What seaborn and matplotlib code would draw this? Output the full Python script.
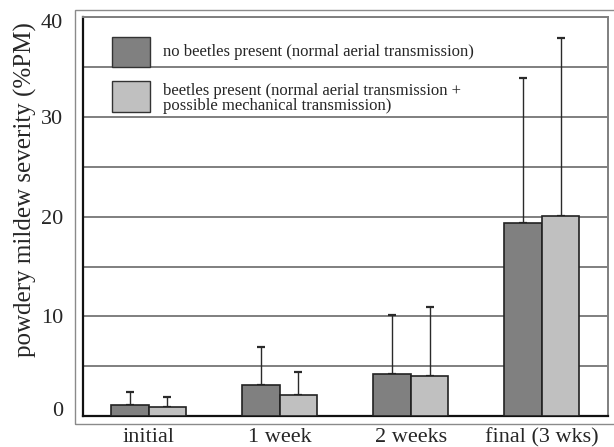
import matplotlib
matplotlib.use("Agg")
import matplotlib.pyplot as plt
from matplotlib.patches import Rectangle
import matplotlib.transforms as mtransforms
import seaborn as sns
import pandas as pd
import numpy as np

# ---- data ----
categories = ["initial", "1 week", "2 weeks", "final (3 wks)"]
series_names = ["no beetles present (normal aerial transmission)",
                "beetles present (normal aerial transmission +\npossible mechanical transmission)"]
no_beetles = [1.13, 3.1, 4.24, 19.4]
no_beetles_err_top = [2.37, 6.95, 10.13, 33.9]
beetles = [0.87, 2.1, 4.04, 20.1]
beetles_err_top = [1.9, 4.44, 10.9, 37.9]
y_ticks = [0, 10, 20, 30, 40]
y_label = "powdery mildew severity (%PM)"

colors = ["#808080", "#c0c0c0"]

sns.set_style("white")
plt.rcParams["font.family"] = ["Liberation Serif", "DejaVu Serif"]

df = pd.DataFrame({
    "cat": categories * 2,
    "val": no_beetles + beetles,
    "grp": [series_names[0]] * 4 + [series_names[1]] * 4,
})

W, H = 614, 447
AX_L, AX_R, AX_T, AX_B = 83, 607.5, 17.5, 416
AW, AH = AX_R - AX_L, AX_B - AX_T
fig = plt.figure(figsize=(W / 100, H / 100), dpi=100)
fig.patch.set_facecolor("white")
ax = fig.add_axes([AX_L / W, 1 - AX_B / H, AW / W, AH / H])

def fx(px):
    return (px - AX_L) / AW

def fy(py):
    return 1 - (py - AX_T) / AH

sns.barplot(data=df, x="cat", y="val", hue="grp", order=categories,
            hue_order=series_names, palette=colors, width=0.572,
            edgecolor="#222222", linewidth=1.2, errorbar=None, ax=ax,
            legend=False, zorder=3, saturation=1)

# error bars (upper only) at bar centres
bars = list(ax.patches)
tops = no_beetles_err_top + beetles_err_top
vals = no_beetles + beetles
for p, v, t in zip(bars, vals, tops):
    xc = p.get_x() + p.get_width() / 2
    ax.errorbar([xc], [v], yerr=[[0], [t - v]], fmt="none", ecolor="#2a2a2a",
                elinewidth=1.0, capsize=3, capthick=1.6, zorder=2)

ax.set_xlim(-0.5, 3.5)
ax.set_ylim(0, 40)
ax.set_yticks(y_ticks)
ax.set_yticks(np.arange(5, 40, 10), minor=True)
ax.yaxis.grid(True, which="both", color="#7f7f7f", linewidth=1.4, zorder=0)
ax.set_axisbelow(True)
ax.tick_params(axis="y", which="both", direction="out", length=1.5, width=1.0,
               color="#333333", pad=13, labelsize=16)
ax.set_yticklabels([str(v) for v in y_ticks])
# the reference draws "0" a little higher and "40" a little lower
ylabels = ax.get_yticklabels()
ylabels[0].set_transform(ylabels[0].get_transform() +
                         mtransforms.ScaledTranslation(0, 7 / 100, fig.dpi_scale_trans))
ylabels[-1].set_transform(ylabels[-1].get_transform() +
                          mtransforms.ScaledTranslation(0, -4 / 100, fig.dpi_scale_trans))

ax.set_xticks(range(len(categories)))
ax.set_xticklabels(categories, fontsize=16)
ax.set_xticks(np.arange(-0.5, 4, 1), minor=True)
ax.tick_params(axis="x", which="major", length=0, pad=8.5)
ax.tick_params(axis="x", which="minor", direction="out", length=2.5, width=1.0,
               color="#333333")
ax.set_xlabel("")
ax.set_ylabel("")

for s in ["left", "bottom"]:
    ax.spines[s].set_color("#111111")
    ax.spines[s].set_linewidth(1.6)
for s in ["top", "right"]:
    ax.spines[s].set_color("#7f7f7f")
    ax.spines[s].set_linewidth(1.4)
    ax.spines[s].set_visible(True)

fig.text(25 / W, 1 - 190 / H, y_label, rotation=90, ha="center", va="center",
         fontsize=18)

# legend drawn inside the plot, without a frame
leg_boxes = [(37.3, 67.3), (81.0, 111.7)]
leg_text_y = [52.3, 98.3]
for c, (y0, y1), name, ty in zip(colors, leg_boxes, series_names, leg_text_y):
    ax.add_patch(Rectangle((fx(111.7), fy(y1)), fx(150) - fx(111.7), fy(y0) - fy(y1),
                           transform=ax.transAxes, facecolor=c,
                           edgecolor="#333333", linewidth=1.0, zorder=5))
    ax.text(fx(162.7), fy(ty), name, transform=ax.transAxes, ha="left",
            va="center", fontsize=12, linespacing=0.92, zorder=5)

# outer frame around the chart area
fig.patches.append(Rectangle((75 / W, 1 - 424 / H), (W - 75 + 20) / W, (424 - 10) / H,
                             transform=fig.transFigure, fill=False,
                             edgecolor="#8a8a8a", linewidth=1.0))

fig.savefig("out.png", dpi=100)
